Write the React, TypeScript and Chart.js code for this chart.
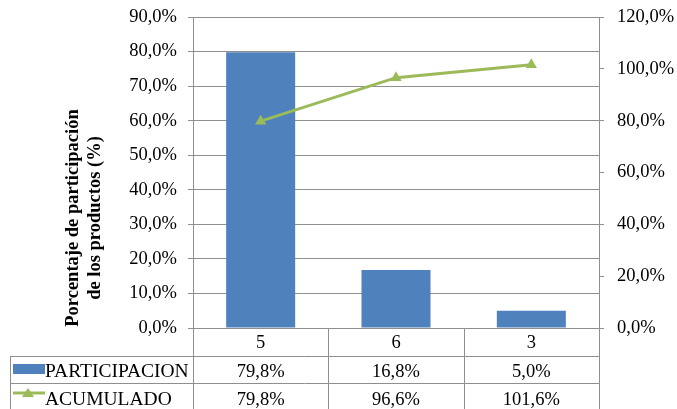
import React, { useEffect, useRef } from "react";
import { Chart, registerables } from "chart.js";

Chart.register(...registerables);

const categories = ["5", "6", "3"];
const participacion = [79.8, 16.8, 5.0];
const acumulado = [79.8, 96.6, 101.6];
const seriesNames = ["PARTICIPACION", "ACUMULADO"];
const yTitleLines = ["Porcentaje de participación", "de los productos (%)"];

const FONT = "'Liberation Serif', 'Times New Roman', serif";
const BLUE = "#4F81BD";
const GREEN = "#9BBB59";
const GRID = "#8f8f8f";

const fmt = (v: number) => v.toFixed(1).replace(".", ",") + "%";

const tablePlugin = {
  id: "dataTable",
  afterDraw(chart: any) {
    const { ctx, chartArea, scales } = chart;
    const x = scales.x;
    const left = chartArea.left;
    const right = chartArea.right;
    const bottom = chartArea.bottom;
    const catW = (right - left) / categories.length;
    const row1 = bottom + 28;
    const row2 = row1 + 27;
    const tableBottom = 409;
    const tableLeft = 10;
    ctx.save();
    ctx.strokeStyle = GRID;
    ctx.lineWidth = 1;
    ctx.beginPath();
    for (let i = 0; i <= categories.length; i++) {
      const xx = Math.round(left + i * catW) + 0.5;
      ctx.moveTo(xx, bottom);
      ctx.lineTo(xx, tableBottom);
    }
    ctx.moveTo(tableLeft + 0.5, row1);
    ctx.lineTo(tableLeft + 0.5, tableBottom);
    ctx.moveTo(tableLeft, row1 + 0.5);
    ctx.lineTo(right, row1 + 0.5);
    ctx.moveTo(tableLeft, row2 + 0.5);
    ctx.lineTo(right, row2 + 0.5);
    ctx.stroke();

    ctx.fillStyle = "#000";
    ctx.font = `18.5px ${FONT}`;
    ctx.textAlign = "center";
    ctx.textBaseline = "middle";
    const y0 = bottom + 15;
    const y1 = row1 + 16;
    const y2 = row2 + 17;
    categories.forEach((c, i) => {
      const cx = x.getPixelForValue(i);
      ctx.fillText(c, cx, y0);
      ctx.fillText(fmt(participacion[i]), cx, y1);
      ctx.fillText(fmt(acumulado[i]), cx, y2);
    });

    // legend keys
    ctx.fillStyle = BLUE;
    ctx.fillRect(13, row1 + 8, 32, 10);
    const gy = row2 + 10;
    ctx.strokeStyle = GREEN;
    ctx.lineWidth = 3;
    ctx.beginPath();
    ctx.moveTo(13, gy);
    ctx.lineTo(45, gy);
    ctx.stroke();
    ctx.fillStyle = GREEN;
    ctx.beginPath();
    ctx.moveTo(28, gy - 5);
    ctx.lineTo(34, gy + 4);
    ctx.lineTo(22, gy + 4);
    ctx.closePath();
    ctx.fill();

    ctx.fillStyle = "#000";
    ctx.font = `19.5px ${FONT}`;
    ctx.textAlign = "left";
    ctx.fillText(seriesNames[0], 45, y1);
    ctx.fillText(seriesNames[1], 45, y2);

    // y title
    ctx.font = `bold 18.5px ${FONT}`;
    ctx.textAlign = "center";
    ctx.translate(84, 218);
    ctx.rotate(-Math.PI / 2);
    ctx.fillText(yTitleLines[0], 0, -11);
    ctx.fillText(yTitleLines[1], 0, 11);
    ctx.restore();
  },
};

export default function App() {
  const ref = useRef<HTMLCanvasElement | null>(null);
  useEffect(() => {
    if (!ref.current) return;
    const chart = new Chart(ref.current, {
      data: {
        labels: categories,
        datasets: [
          {
            type: "line",
            label: seriesNames[1],
            data: acumulado,
            yAxisID: "y1",
            borderColor: GREEN,
            backgroundColor: GREEN,
            borderWidth: 3,
            pointStyle: "triangle",
            pointRadius: 6.5,
            pointBorderWidth: 0,
            order: 0,
          } as any,
          {
            type: "bar",
            label: seriesNames[0],
            data: participacion,
            yAxisID: "y",
            backgroundColor: BLUE,
            barPercentage: 0.51,
            categoryPercentage: 1,
            order: 1,
          } as any,
        ],
      },
      options: {
        responsive: false,
        animation: false,
        devicePixelRatio: 1,
        layout: { padding: { top: 17, bottom: 81, left: 0, right: 0 } },
        plugins: { legend: { display: false }, tooltip: { enabled: false } },
        scales: {
          x: { display: false, offset: true },
          y: {
            position: "left",
            min: 0,
            max: 90,
            ticks: {
              stepSize: 10,
              callback: (v: any) => fmt(Number(v)),
              color: "#000",
              font: { family: FONT, size: 18.5 },
              padding: 11,
            },
            grid: { color: GRID, tickLength: 5, drawTicks: true },
            border: { display: true, color: GRID },
            afterFit: (s: any) => {
              s.width = 193;
              s.paddingTop = 0;
              s.paddingBottom = 0;
            },
          },
          y1: {
            position: "right",
            min: 0,
            max: 120,
            ticks: {
              stepSize: 20,
              callback: (v: any) => fmt(Number(v)),
              color: "#000",
              font: { family: FONT, size: 18.5 },
              padding: 13,
            },
            grid: { drawOnChartArea: false, color: GRID, tickLength: 5 },
            border: { display: true, color: GRID },
            afterFit: (s: any) => {
              s.width = 78;
              s.paddingTop = 0;
              s.paddingBottom = 0;
            },
          },
        },
      },
      plugins: [tablePlugin],
    } as any);
    return () => chart.destroy();
  }, []);
  return (
    <div style={{ position: "fixed", left: 0, top: 0, width: 677, height: 409, background: "#fff" }}>
      <canvas ref={ref} width={677} height={409} />
    </div>
  );
}
